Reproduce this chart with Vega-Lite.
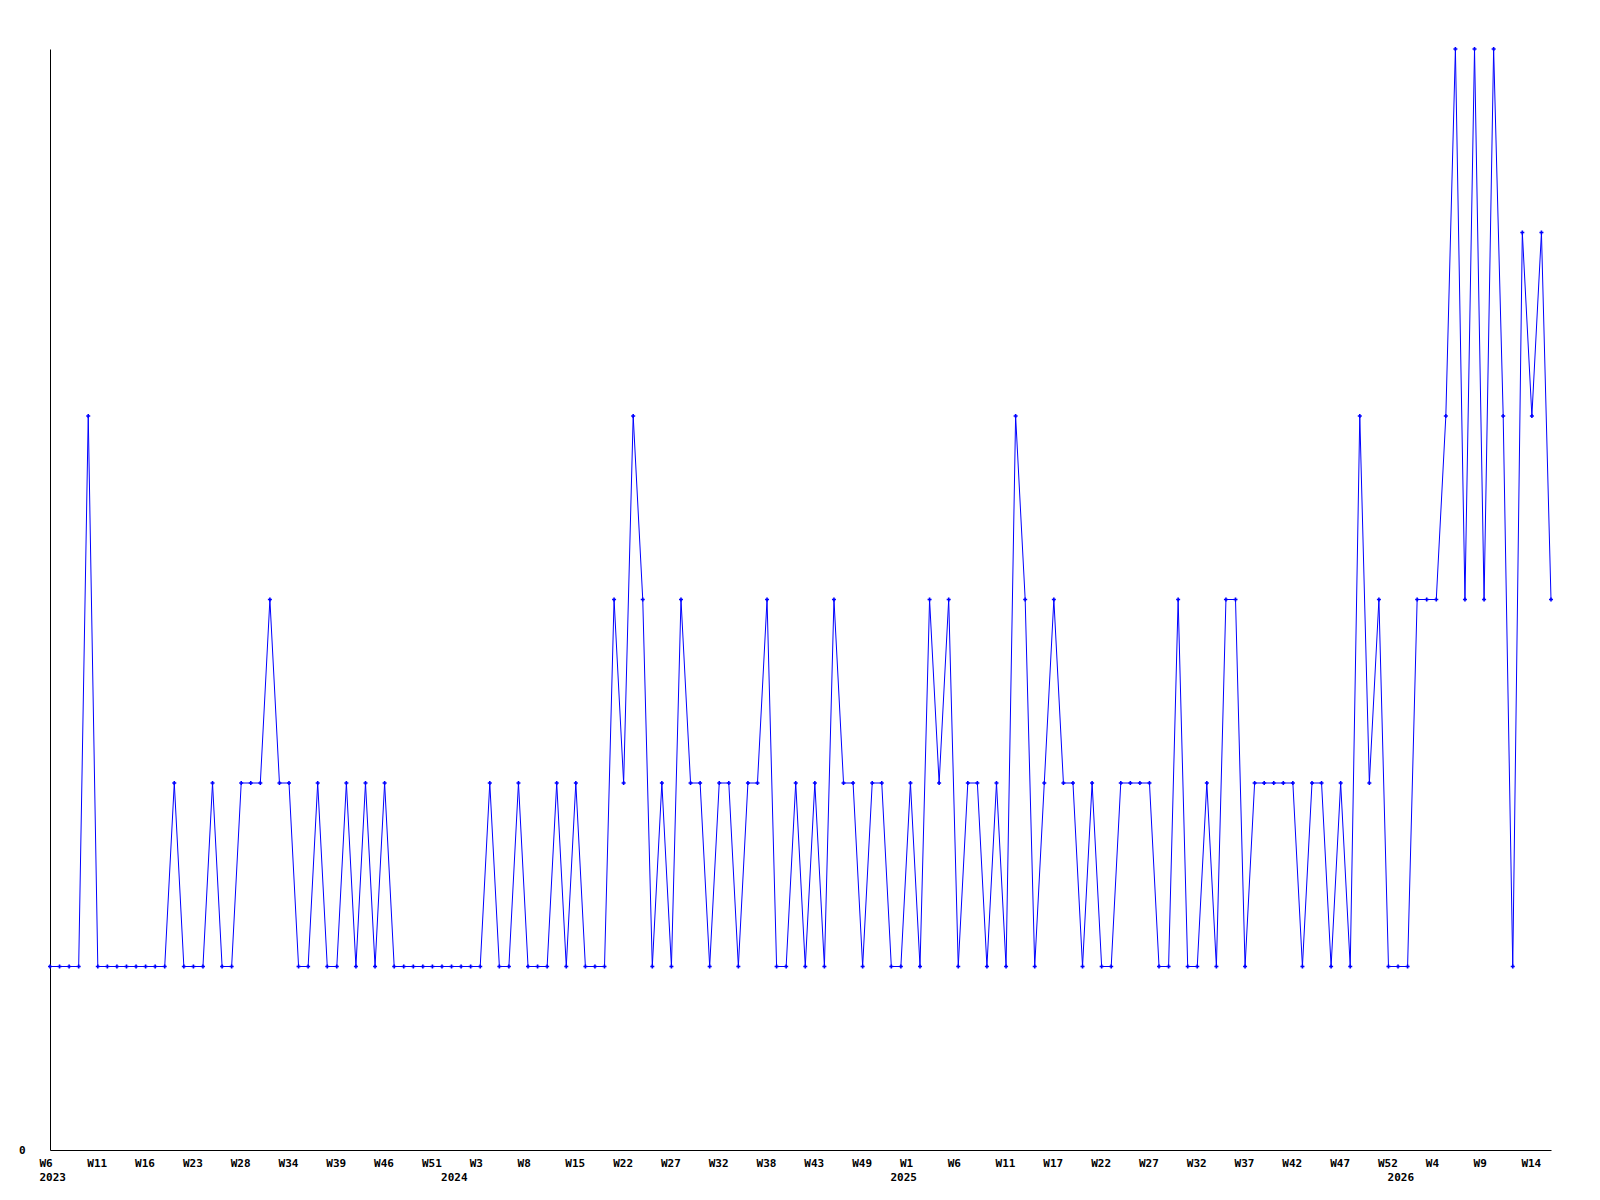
{
  "$schema": "https://vega.github.io/schema/vega-lite/v6.json",
  "width": 1501,
  "height": 1101,
  "autosize": {"type": "none"},
  "padding": {"left": 50, "top": 49, "right": 49, "bottom": 50},
  "background": "white",
  "config": {
    "view": {"stroke": null},
    "axis": {
      "labelFont": "DejaVu Sans Mono",
      "labelFontWeight": "bold",
      "labelFontSize": 11,
      "labelColor": "black",
      "domainColor": "black",
      "domainWidth": 1,
      "grid": false,
      "ticks": false,
      "title": null
    }
  },
  "data": {
    "values": [
      {"week": "2023-W06", "v": 1}, {"week": "2023-W07", "v": 1}, {"week": "2023-W08", "v": 1}, {"week": "2023-W09", "v": 1}, {"week": "2023-W10", "v": 4},
      {"week": "2023-W11", "v": 1}, {"week": "2023-W12", "v": 1}, {"week": "2023-W13", "v": 1}, {"week": "2023-W14", "v": 1}, {"week": "2023-W15", "v": 1},
      {"week": "2023-W16", "v": 1}, {"week": "2023-W17", "v": 1}, {"week": "2023-W19", "v": 1}, {"week": "2023-W20", "v": 2}, {"week": "2023-W22", "v": 1},
      {"week": "2023-W23", "v": 1}, {"week": "2023-W24", "v": 1}, {"week": "2023-W25", "v": 2}, {"week": "2023-W26", "v": 1}, {"week": "2023-W27", "v": 1},
      {"week": "2023-W28", "v": 2}, {"week": "2023-W29", "v": 2}, {"week": "2023-W30", "v": 2}, {"week": "2023-W31", "v": 3}, {"week": "2023-W33", "v": 2},
      {"week": "2023-W34", "v": 2}, {"week": "2023-W35", "v": 1}, {"week": "2023-W36", "v": 1}, {"week": "2023-W37", "v": 2}, {"week": "2023-W38", "v": 1},
      {"week": "2023-W39", "v": 1}, {"week": "2023-W40", "v": 2}, {"week": "2023-W42", "v": 1}, {"week": "2023-W43", "v": 2}, {"week": "2023-W45", "v": 1},
      {"week": "2023-W46", "v": 2}, {"week": "2023-W47", "v": 1}, {"week": "2023-W48", "v": 1}, {"week": "2023-W49", "v": 1}, {"week": "2023-W50", "v": 1},
      {"week": "2023-W51", "v": 1}, {"week": "2023-W52", "v": 1}, {"week": "2024-W00", "v": 1}, {"week": "2024-W01", "v": 1}, {"week": "2024-W02", "v": 1},
      {"week": "2024-W03", "v": 1}, {"week": "2024-W04", "v": 2}, {"week": "2024-W05", "v": 1}, {"week": "2024-W06", "v": 1}, {"week": "2024-W07", "v": 2},
      {"week": "2024-W08", "v": 1}, {"week": "2024-W09", "v": 1}, {"week": "2024-W11", "v": 1}, {"week": "2024-W12", "v": 2}, {"week": "2024-W14", "v": 1},
      {"week": "2024-W15", "v": 2}, {"week": "2024-W16", "v": 1}, {"week": "2024-W18", "v": 1}, {"week": "2024-W19", "v": 1}, {"week": "2024-W21", "v": 3},
      {"week": "2024-W22", "v": 2}, {"week": "2024-W23", "v": 4}, {"week": "2024-W24", "v": 3}, {"week": "2024-W25", "v": 1}, {"week": "2024-W26", "v": 2},
      {"week": "2024-W27", "v": 1}, {"week": "2024-W28", "v": 3}, {"week": "2024-W29", "v": 2}, {"week": "2024-W30", "v": 2}, {"week": "2024-W31", "v": 1},
      {"week": "2024-W32", "v": 2}, {"week": "2024-W33", "v": 2}, {"week": "2024-W34", "v": 1}, {"week": "2024-W36", "v": 2}, {"week": "2024-W37", "v": 2},
      {"week": "2024-W38", "v": 3}, {"week": "2024-W39", "v": 1}, {"week": "2024-W40", "v": 1}, {"week": "2024-W41", "v": 2}, {"week": "2024-W42", "v": 1},
      {"week": "2024-W43", "v": 2}, {"week": "2024-W44", "v": 1}, {"week": "2024-W45", "v": 3}, {"week": "2024-W47", "v": 2}, {"week": "2024-W48", "v": 2},
      {"week": "2024-W49", "v": 1}, {"week": "2024-W50", "v": 2}, {"week": "2024-W51", "v": 2}, {"week": "2024-W52", "v": 1}, {"week": "2025-W00", "v": 1},
      {"week": "2025-W01", "v": 2}, {"week": "2025-W02", "v": 1}, {"week": "2025-W03", "v": 3}, {"week": "2025-W04", "v": 2}, {"week": "2025-W05", "v": 3},
      {"week": "2025-W06", "v": 1}, {"week": "2025-W07", "v": 2}, {"week": "2025-W08", "v": 2}, {"week": "2025-W09", "v": 1}, {"week": "2025-W10", "v": 2},
      {"week": "2025-W11", "v": 1}, {"week": "2025-W12", "v": 4}, {"week": "2025-W13", "v": 3}, {"week": "2025-W15", "v": 1}, {"week": "2025-W16", "v": 2},
      {"week": "2025-W17", "v": 3}, {"week": "2025-W18", "v": 2}, {"week": "2025-W19", "v": 2}, {"week": "2025-W20", "v": 1}, {"week": "2025-W21", "v": 2},
      {"week": "2025-W22", "v": 1}, {"week": "2025-W23", "v": 1}, {"week": "2025-W24", "v": 2}, {"week": "2025-W25", "v": 2}, {"week": "2025-W26", "v": 2},
      {"week": "2025-W27", "v": 2}, {"week": "2025-W28", "v": 1}, {"week": "2025-W29", "v": 1}, {"week": "2025-W30", "v": 3}, {"week": "2025-W31", "v": 1},
      {"week": "2025-W32", "v": 1}, {"week": "2025-W33", "v": 2}, {"week": "2025-W34", "v": 1}, {"week": "2025-W35", "v": 3}, {"week": "2025-W36", "v": 3},
      {"week": "2025-W37", "v": 1}, {"week": "2025-W38", "v": 2}, {"week": "2025-W39", "v": 2}, {"week": "2025-W40", "v": 2}, {"week": "2025-W41", "v": 2},
      {"week": "2025-W42", "v": 2}, {"week": "2025-W43", "v": 1}, {"week": "2025-W44", "v": 2}, {"week": "2025-W45", "v": 2}, {"week": "2025-W46", "v": 1},
      {"week": "2025-W47", "v": 2}, {"week": "2025-W48", "v": 1}, {"week": "2025-W49", "v": 4}, {"week": "2025-W50", "v": 2}, {"week": "2025-W51", "v": 3},
      {"week": "2025-W52", "v": 1}, {"week": "2026-W00", "v": 1}, {"week": "2026-W01", "v": 1}, {"week": "2026-W02", "v": 3}, {"week": "2026-W03", "v": 3},
      {"week": "2026-W04", "v": 3}, {"week": "2026-W05", "v": 4}, {"week": "2026-W06", "v": 6}, {"week": "2026-W07", "v": 3}, {"week": "2026-W08", "v": 6},
      {"week": "2026-W09", "v": 3}, {"week": "2026-W10", "v": 6}, {"week": "2026-W11", "v": 4}, {"week": "2026-W12", "v": 1}, {"week": "2026-W13", "v": 5},
      {"week": "2026-W14", "v": 4}, {"week": "2026-W15", "v": 5}, {"week": "2026-W16", "v": 3}
    ]
  },
  "encoding": {
    "x": {
      "field": "week",
      "type": "ordinal",
      "sort": null,
      "scale": {"type": "point", "padding": 0},
      "axis": {
        "values": ["2023-W06", "2023-W11", "2023-W16", "2023-W23", "2023-W28", "2023-W34", "2023-W39", "2023-W46", "2023-W51", "2024-W00", "2024-W03", "2024-W08", "2024-W15", "2024-W22", "2024-W27", "2024-W32", "2024-W38", "2024-W43", "2024-W49", "2025-W00", "2025-W01", "2025-W06", "2025-W11", "2025-W17", "2025-W22", "2025-W27", "2025-W32", "2025-W37", "2025-W42", "2025-W47", "2025-W52", "2026-W00", "2026-W04", "2026-W09", "2026-W14"],
        "labelExpr": "datum.value == '2023-W06' ? ['W6', '2023'] : (substring(datum.value, 6) == '00' ? ['', substring(datum.value, 0, 4)] : 'W' + toNumber(substring(datum.value, 6)))",
        "labelAngle": 0,
        "labelAlign": "left",
        "labelBaseline": "top",
        "labelOffset": -11,
        "labelPadding": 7,
        "labelLineHeight": 14,
        "labelOverlap": false,
        "labelFlush": false,
        "labelBound": false
      }
    },
    "y": {
      "field": "v",
      "type": "quantitative",
      "scale": {"domain": [0, 6], "nice": false},
      "axis": {"values": [0], "labelPadding": 25}
    }
  },
  "layer": [
    {"mark": {"type": "line", "color": "#0000ff", "strokeWidth": 1}},
    {"mark": {"type": "point", "shape": "cross", "filled": true, "size": 16, "color": "#0000ff", "opacity": 1}}
  ]
}
